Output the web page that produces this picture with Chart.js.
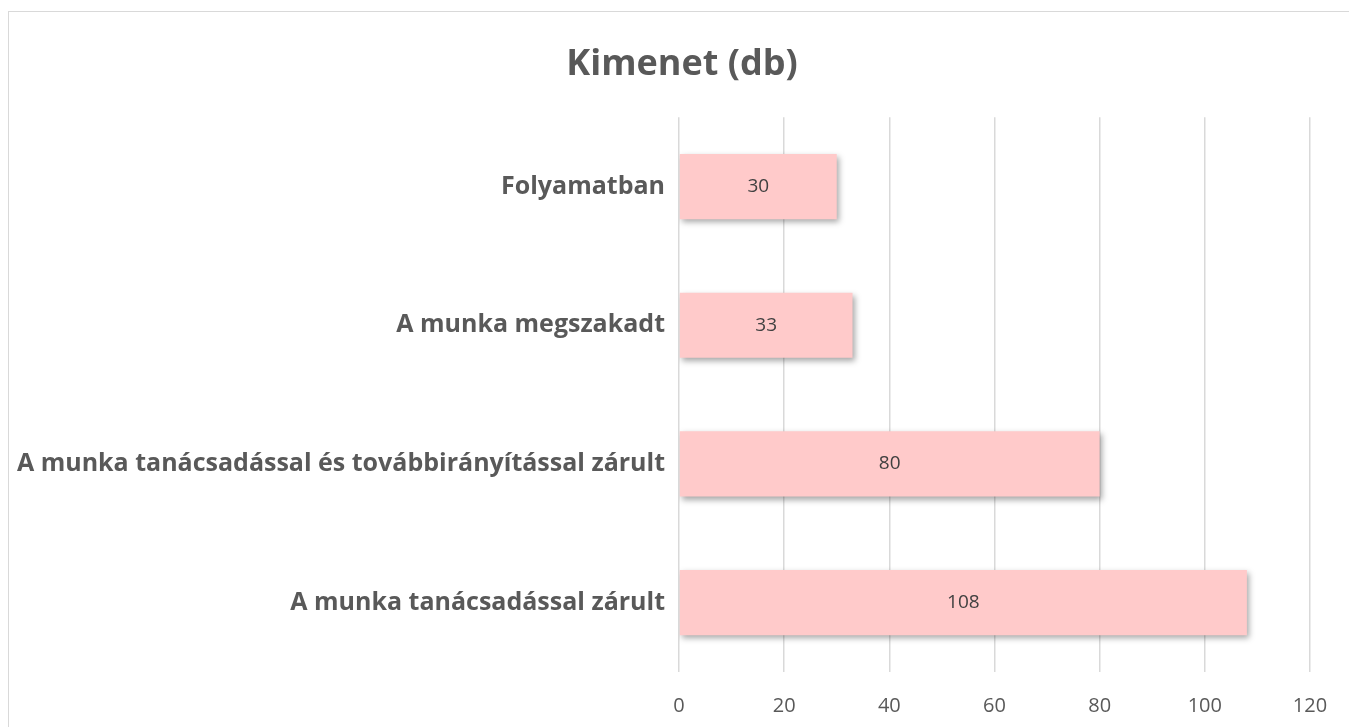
<!DOCTYPE html>
<html>
<head>
<meta charset="utf-8">
<script src="https://cdn.jsdelivr.net/npm/chart.js@4.4.1/dist/chart.umd.min.js"></script>
<style>
    html, body { margin: 0; padding: 0; background: #ffffff; overflow: hidden; }
    #frame {
        position: absolute; left: 8px; top: 11px;
        width: 1348px; height: 740px;
        border: 1px solid #d9d9d9; box-sizing: border-box;
    }
    #wrap { position: absolute; left: 8px; top: 11px; width: 1348px; height: 716px; }
</style>
</head>
<body>
<div id="frame"></div>
<div id="wrap"><canvas id="outputChart"></canvas></div>
<script>
// adatok
var categories = ['Folyamatban', 'A munka megszakadt', 'A munka tanácsadással és továbbirányítással zárult', 'A munka tanácsadással zárult'];
var counts = [30, 33, 80, 108];
var xTicks = [0, 20, 40, 60, 80, 100, 120];

var fontName = '"Open Sans", "Liberation Sans", sans-serif';

// a cím a teljes diagram szélességén legyen középre igazítva
var fullWidthTitle = {
    id: 'fullWidthTitle',
    afterLayout: function (chart) {
        var t = chart.titleBlock;
        if (t) {
            t.left = 0;
            t.right = chart.width;
            t.width = chart.width;
        }
    }
};

// árnyék a sávok alá
var barShadow = {
    id: 'barShadow',
    beforeDatasetsDraw: function (chart) {
        var ctx = chart.ctx;
        ctx.save();
        ctx.shadowColor = 'rgba(0,0,0,0.35)';
        ctx.shadowBlur = 6;
        ctx.shadowOffsetX = 2;
        ctx.shadowOffsetY = 3;
    },
    afterDatasetsDraw: function (chart) {
        chart.ctx.restore();
    }
};

// értékek a sávok közepén
var barLabels = {
    id: 'barLabels',
    afterDatasetsDraw: function (chart) {
        var ctx = chart.ctx;
        var meta = chart.getDatasetMeta(0);
        ctx.save();
        ctx.fillStyle = '#404040';
        ctx.font = '19px ' + fontName;
        ctx.textAlign = 'center';
        ctx.textBaseline = 'middle';
        meta.data.forEach(function (bar, i) {
            var cx = (bar.x + bar.base) / 2;
            ctx.fillText(String(chart.data.datasets[0].data[i]), cx, bar.y);
        });
        ctx.restore();
    }
};

function renderOutputChart() {
    var ctx = document.getElementById('outputChart').getContext('2d');

    window.myChart = new Chart(ctx, {
        type: 'bar',
        data: {
            labels: categories,
            datasets: [{
                label: 'Kimenet (db)',
                data: counts,
                backgroundColor: '#ffcaca',
                borderWidth: 0,
                barPercentage: 0.47,
                categoryPercentage: 1
            }]
        },
        options: {
            indexAxis: 'y',
            responsive: true,
            maintainAspectRatio: false,
            animation: false,
            layout: { padding: { left: 0, right: 46, top: 0, bottom: 0 } },
            plugins: {
                legend: { display: false },
                tooltip: { enabled: false },
                title: {
                    display: true,
                    text: 'Kimenet (db)',
                    color: '#595959',
                    font: { family: fontName, size: 36, weight: 'bold' },
                    padding: { top: 32, bottom: 31 }
                }
            },
            scales: {
                x: {
                    min: 0,
                    max: 120,
                    afterBuildTicks: function (scale) {
                        scale.ticks = xTicks.map(function (v) { return { value: v }; });
                    },
                    afterFit: function (scale) { scale.height = 55; },
                    border: { display: false },
                    grid: { color: '#d9d9d9', lineWidth: 1.5, drawTicks: false },
                    ticks: {
                        color: '#595959',
                        padding: 22,
                        font: { family: fontName, size: 20 }
                    }
                },
                y: {
                    afterFit: function (scale) { scale.width = 671; },
                    border: { display: false },
                    grid: { display: false, drawTicks: false },
                    ticks: {
                        color: '#595959',
                        padding: 14,
                        font: { family: fontName, size: 25, weight: 'bold' }
                    }
                }
            }
        },
        plugins: [fullWidthTitle, barShadow, barLabels]
    });
}

renderOutputChart();
</script>
</body>
</html>
